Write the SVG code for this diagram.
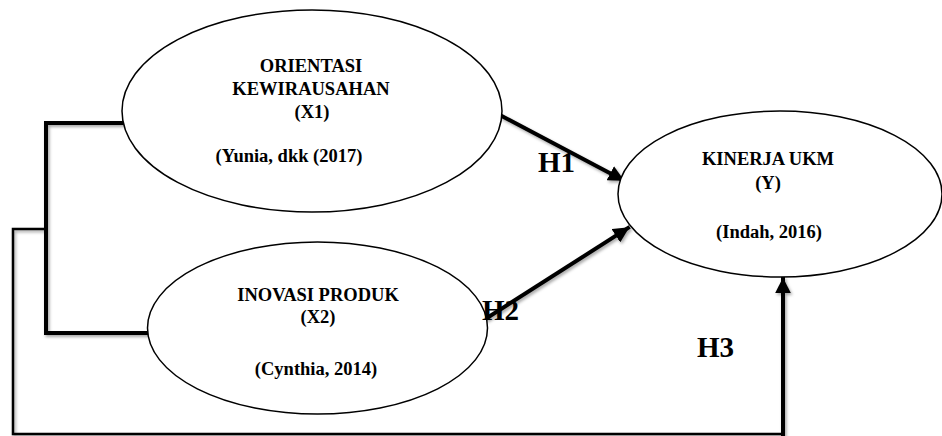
<svg xmlns="http://www.w3.org/2000/svg" width="942" height="436" viewBox="0 0 942 436">
<style>
.node ellipse{fill:#fff;stroke:#000;stroke-width:1.5}
.t{font-family:"Liberation Serif","Times New Roman",serif;font-weight:bold;font-size:18.5px;fill:#000;text-anchor:middle}
.h{font-family:"Liberation Serif","Times New Roman",serif;font-weight:bold;font-size:29px;fill:#000}
.c{fill:none;stroke:#000;stroke-width:4;stroke-linecap:square;stroke-linejoin:miter}
.thin{fill:none;stroke:#000;stroke-width:2.5}
</style>
<defs>
<filter id="sh" x="-10%" y="-10%" width="130%" height="130%">
<feDropShadow dx="1.5" dy="2" stdDeviation="1.5" flood-color="#000" flood-opacity="0.35"/>
</filter>
<marker id="ah" viewBox="0 0 10 10" refX="9" refY="5" markerWidth="4" markerHeight="4" orient="auto" markerUnits="strokeWidth">
<path d="M0,0 L10,5 L0,10 z" fill="#000"/>
</marker>
</defs>
<rect width="942" height="436" fill="#fff"/>
<g id="connectors" filter="url(#sh)">
<polyline class="c" points="122,123 46,123 46,333 148,333"/>
<polyline class="thin" points="46,229 13,229 13,434 783,434"/>
<line class="c" x1="496" y1="113" x2="623" y2="180" marker-end="url(#ah)"/>
<line class="c" x1="487" y1="318" x2="628" y2="228" marker-end="url(#ah)"/>
<line class="c" x1="783" y1="434" x2="783" y2="279" stroke-linecap="butt" marker-end="url(#ah)"/>
</g>
<g id="x1" class="node">
<ellipse cx="312" cy="111" rx="190" ry="101"/>
<text class="t" x="311" y="72">ORIENTASI</text>
<text class="t" x="311" y="95">KEWIRAUSAHAN</text>
<text class="t" x="312" y="118">(X1)</text>
<text class="t" x="289" y="162">(Yunia, dkk (2017)</text>
</g>
<g id="x2" class="node">
<ellipse cx="317.5" cy="328" rx="170" ry="86"/>
<text class="t" x="318" y="301">INOVASI PRODUK</text>
<text class="t" x="318" y="323">(X2)</text>
<text class="t" x="316" y="375">(Cynthia, 2014)</text>
</g>
<g id="y" class="node">
<ellipse cx="780" cy="194" rx="162" ry="83"/>
<text class="t" x="768" y="165">KINERJA UKM</text>
<text class="t" x="768" y="189">(Y)</text>
<text class="t" x="769" y="238">(Indah, 2016)</text>
</g>
<g id="labels">
<text class="h" x="538" y="172">H1</text>
<text class="h" x="482" y="320">H2</text>
<text class="h" x="697" y="357">H3</text>
</g>
</svg>
